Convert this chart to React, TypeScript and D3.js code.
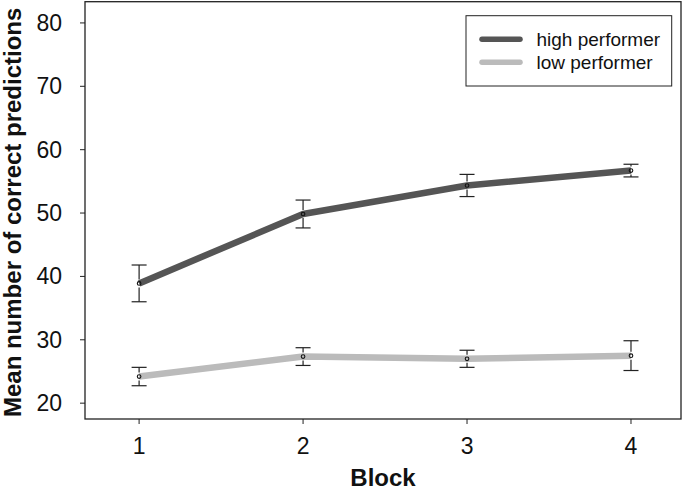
import React from "react";
import * as d3 from "d3";

const blocks = [1, 2, 3, 4];
const highMean = [38.9, 49.85, 54.35, 56.7];
const highErr = [2.9, 2.2, 1.75, 1.0];
const lowMean = [24.2, 27.35, 27.0, 27.5];
const lowErr = [1.45, 1.4, 1.35, 2.35];
const yTicks = [20, 30, 40, 50, 60, 70, 80];
const seriesNames = ["high performer", "low performer"];
const seriesColors = ["#555555", "#bbbbbb"];

const FONT = "'Liberation Sans', Arial, Helvetica, sans-serif";

export default function App() {
  const W = 685, H = 492;
  const x = d3.scaleLinear().domain([0.67, 4.305]).range([85, 681]);
  const y = d3.scaleLinear().domain([17.5, 83.35]).range([419, 1.7]);
  const line = d3
    .line<[number, number]>()
    .x((d) => x(d[0]))
    .y((d) => y(d[1]));
  const series = [
    { name: seriesNames[0], color: seriesColors[0], mean: highMean, err: highErr },
    { name: seriesNames[1], color: seriesColors[1], mean: lowMean, err: lowErr },
  ];
  const [x0, x1] = x.range();
  const [yb, yt] = y.range();
  return (
    <svg
      width={W}
      height={H}
      style={{ position: "absolute", left: 0, top: 0, background: "#fff" }}
      fontFamily={FONT}
    >
      <rect x={0} y={0} width={W} height={H} fill="#fff" />
      <rect x={x0} y={yt} width={x1 - x0} height={yb - yt} fill="none" stroke="#222" strokeWidth={1.3} />
      {yTicks.map((t) => (
        <g key={t}>
          <line x1={x0 - 5} x2={x0} y1={y(t)} y2={y(t)} stroke="#222" strokeWidth={1} />
          <text x={62} y={y(t)} dy="0.35em" textAnchor="end" fontSize={23} fill="#111">
            {t}
          </text>
        </g>
      ))}
      {blocks.map((b) => (
        <g key={b}>
          <line x1={x(b)} x2={x(b)} y1={yb} y2={yb + 5} stroke="#222" strokeWidth={1} />
          <text x={x(b)} y={454} textAnchor="middle" fontSize={23} fill="#111">
            {b}
          </text>
        </g>
      ))}
      <text x={(x0 + x1) / 2} y={486} textAnchor="middle" fontSize={24} fontWeight="bold" fill="#111">
        Block
      </text>
      <text
        transform={`translate(21, ${(yb + yt) / 2 + 2}) rotate(-90)`}
        textAnchor="middle"
        fontSize={24}
        fontWeight="bold"
        fill="#111"
      >
        Mean number of correct predictions
      </text>
      {series.map((s) => {
        const pts: [number, number][] = blocks.map((b, i) => [b, s.mean[i]]);
        return (
          <g key={s.name}>
            <path d={line(pts) || ""} fill="none" stroke={s.color} strokeWidth={6.5} strokeLinejoin="round" />
            {blocks.map((b, i) => {
              const cx = x(b);
              const top = y(s.mean[i] + s.err[i]);
              const bot = y(s.mean[i] - s.err[i]);
              const pt = y(s.mean[i]);
              return (
                <g key={b} stroke="#222" strokeWidth={1.2}>
                  <line x1={cx} x2={cx} y1={top} y2={pt - 4} />
                  <line x1={cx} x2={cx} y1={pt + 4} y2={bot} />
                  <line x1={cx - 7.5} x2={cx + 7.5} y1={top} y2={top} />
                  <line x1={cx - 7.5} x2={cx + 7.5} y1={bot} y2={bot} />
                  <circle cx={cx} cy={pt} r={1.8} fill="none" stroke="#111" strokeWidth={1.1} />
                </g>
              );
            })}
          </g>
        );
      })}
      <rect x={466} y={15.7} width={205.7} height={70.3} fill="#fff" stroke="#222" strokeWidth={1} />
      {series.map((s, i) => (
        <g key={s.name}>
          <line x1={482} x2={520} y1={39.3 + i * 23} y2={39.3 + i * 23} stroke={s.color} strokeWidth={5.5} strokeLinecap="round" />
          <text x={536.5} y={39.3 + i * 23} dy="0.35em" fontSize={19} fill="#111">
            {s.name}
          </text>
        </g>
      ))}
    </svg>
  );
}
